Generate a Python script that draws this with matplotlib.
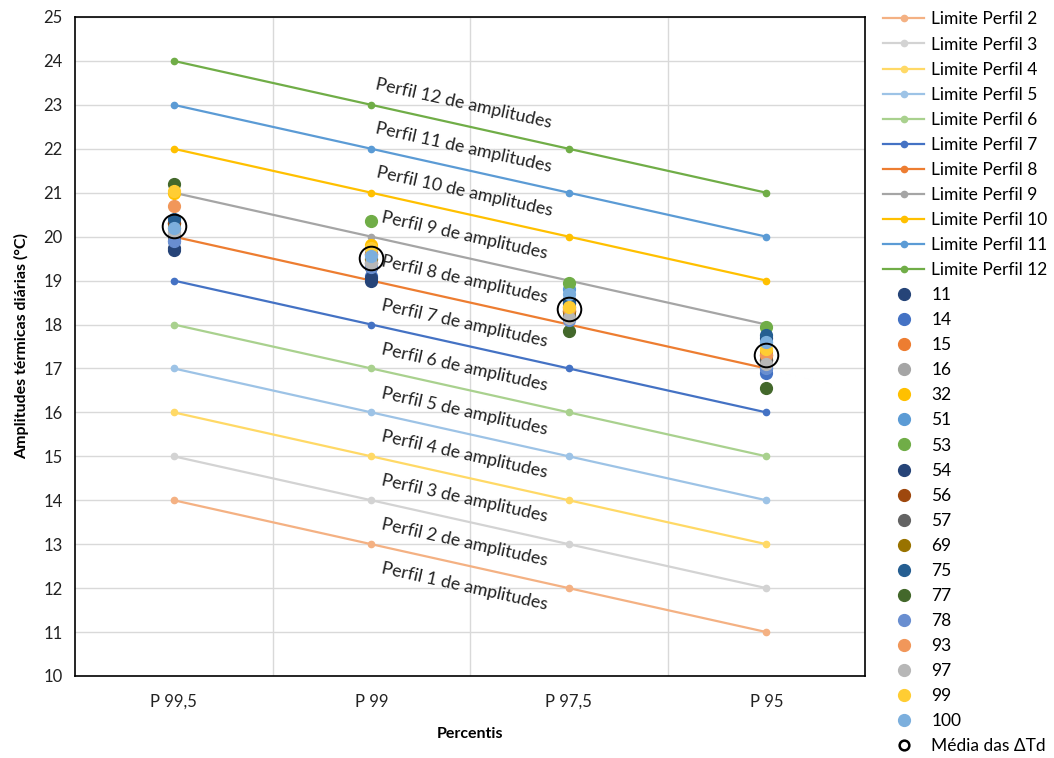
import matplotlib
matplotlib.use("Agg")
from matplotlib import pyplot as plt
from matplotlib.lines import Line2D

plt.rcParams['font.family'] = ['Lato', 'DejaVu Sans']

# categories (percentis)
percentis = ["P 99,5", "P 99", "P 97,5", "P 95"]

# profile limits (Limite Perfil 2..12)
limite_nomes = ["Limite Perfil %d" % k for k in range(2, 13)]
limite_valores = [
    [14, 13, 12, 11],
    [15, 14, 13, 12],
    [16, 15, 14, 13],
    [17, 16, 15, 14],
    [18, 17, 16, 15],
    [19, 18, 17, 16],
    [20, 19, 18, 17],
    [21, 20, 19, 18],
    [22, 21, 20, 19],
    [23, 22, 21, 20],
    [24, 23, 22, 21],
]
limite_cores = ["#F4B183", "#D3D3D3", "#FFD966", "#9DC3E6", "#A9D18E",
                "#4472C4", "#ED7D31", "#A5A5A5", "#FFC000", "#5B9BD5", "#70AD47"]

# stations
estacoes = ["11", "14", "15", "16", "32", "51", "53", "54", "56", "57",
            "69", "75", "77", "78", "93", "97", "99", "100"]
estacao_cores = ["#264478", "#4472C4", "#ED7D31", "#A5A5A5", "#FFC000", "#5B9BD5",
                 "#70AD47", "#264478", "#9E480E", "#636363", "#997300", "#255E91",
                 "#43682B", "#698ED0", "#F1975A", "#B7B7B7", "#FFCD33", "#7CAFDD"]
estacao_valores = [
    [19.70, 19.00, 18.50, 17.00],   # 11
    [19.90, 19.10, 18.40, 16.90],   # 14
    [20.30, 19.30, 18.30, 17.30],   # 15
    [20.10, 19.50, 18.20, 17.20],   # 16
    [21.00, 19.80, 18.40, 17.40],   # 32
    [20.30, 19.60, 18.80, 17.60],   # 51
    [20.30, 20.35, 18.95, 17.95],   # 53
    [19.75, 19.05, 18.55, 17.70],   # 54
    [20.30, 19.40, 18.30, 17.20],   # 56
    [20.00, 19.40, 18.20, 17.20],   # 57
    [20.20, 19.50, 18.30, 17.30],   # 69
    [20.40, 19.30, 18.50, 17.75],   # 75
    [21.20, 19.60, 17.85, 16.55],   # 77
    [19.90, 19.30, 18.10, 17.00],   # 78
    [20.70, 19.60, 18.35, 17.30],   # 93
    [20.10, 19.40, 18.15, 17.10],   # 97
    [21.05, 19.75, 18.40, 17.45],   # 99
    [20.20, 19.55, 18.70, 17.60],   # 100
]
media = [20.25, 19.52, 18.35, 17.31]

perfil_labels = ["Perfil %d de amplitudes" % k for k in range(1, 13)]

fig = plt.figure(figsize=(10.54, 7.58), dpi=100)
ax = fig.add_axes([0.0712, 0.1082, 0.7495, 0.8694])
x = list(range(len(percentis)))

handles = []
for nome, vals, cor in zip(limite_nomes, limite_valores, limite_cores):
    h, = ax.plot(x, vals, color=cor, lw=1.6, marker='o', ms=4.5, label=nome, zorder=2)
    handles.append(h)

for nome, vals, cor in zip(estacoes, estacao_valores, estacao_cores):
    ax.plot(x, vals, ls='none', marker='o', ms=8.5, color=cor, zorder=3)
    handles.append(Line2D([], [], ls='none', marker='o', ms=8.5, color=cor, label=nome))

ax.plot(x, media, ls='none', marker='o', ms=17, mfc='none', mec='black', mew=1.4, zorder=4)
handles.append(Line2D([], [], ls='none', marker='o', ms=7, mfc='none', mec='black',
                      mew=1.8, label="Média das ΔTd"))

# profile labels, midway between consecutive limits, at the centre of the chart
for k, txt in enumerate(perfil_labels, start=1):
    ax.text(1.47, k + 11.03, txt, rotation=-12.5, rotation_mode='anchor',
            ha='center', va='center', fontsize=12.8, color='#222222', zorder=5)

ax.set_xlim(-0.5, 3.5)
ax.set_ylim(10, 25)
ax.set_yticks(range(10, 26))
ax.set_xticks(x)
ax.set_xticklabels(percentis)
ax.set_xticks([0.5, 1.5, 2.5], minor=True)
ax.tick_params(axis='both', which='both', length=0, labelsize=12, colors='#222222')
ax.tick_params(axis='x', pad=13)
ax.tick_params(axis='y', pad=9)
ax.grid(True, axis='y', which='major', color='#D9D9D9', lw=1)
ax.grid(True, axis='x', which='minor', color='#D9D9D9', lw=1)
ax.set_axisbelow(True)
for s in ax.spines.values():
    s.set_color('black')
    s.set_linewidth(1.2)

ax.set_ylabel("Amplitudes térmicas diárias (°C)", fontsize=11.5, fontweight='bold', labelpad=10)
ax.set_xlabel("Percentis", fontsize=11.5, fontweight='bold', labelpad=12)

fig.legend(handles=handles, loc='upper left', bbox_to_anchor=(0.831, 0.994),
           frameon=False, fontsize=12.5, handlelength=2.4, handletextpad=0.4,
           labelspacing=0.522, borderaxespad=0)

fig.savefig("out.png", dpi=100)
